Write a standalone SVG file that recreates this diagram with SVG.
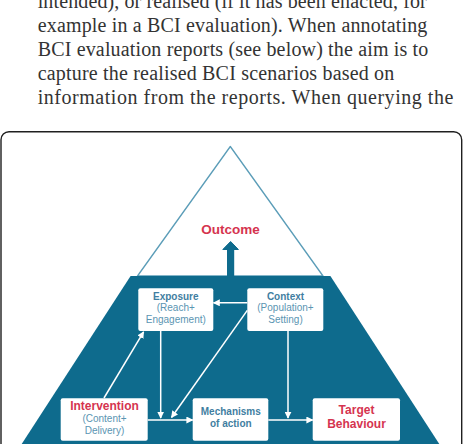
<svg xmlns="http://www.w3.org/2000/svg" width="463" height="444" viewBox="0 0 463 444">
  <defs>
    <marker id="head" viewBox="0 0 10 10" refX="9" refY="5" markerWidth="7" markerHeight="7" markerUnits="userSpaceOnUse" orient="auto">
      <path d="M0,0 L10,5 L0,10 z" fill="#ffffff"/>
    </marker>
    <style>
      .body { font-family: "Liberation Serif", "Times New Roman", serif; font-size: 20px; fill: #333333; }
      .box { fill: #ffffff; }
      .t { font-family: "Liberation Sans", Arial, sans-serif; text-anchor: middle; }
      .title { font-weight: bold; font-size: 10px; fill: #3f7ea1; }
      .sub { font-size: 10px; fill: #5b95b2; }
      .red { font-weight: bold; font-size: 12px; fill: #d5344f; }
      .link { stroke: #ffffff; stroke-width: 1.5; fill: none; marker-end: url(#head); }
    </style>
  </defs>

  <!-- running text above the figure -->
  <g id="paragraph">
    <text class="body" x="37.7" y="7.5" textLength="389" lengthAdjust="spacing">intended), or realised (if it has been enacted, for</text>
    <text class="body" x="37.7" y="31.5" textLength="389.6" lengthAdjust="spacing">example in a BCI evaluation). When annotating</text>
    <text class="body" x="37.7" y="55.5" textLength="390.6" lengthAdjust="spacing">BCI evaluation reports (see below) the aim is to</text>
    <text class="body" x="37.7" y="79.5" textLength="356.6" lengthAdjust="spacing">capture the realised BCI scenarios based on</text>
    <text class="body" x="37.7" y="103.5" textLength="415.6" lengthAdjust="spacing">information from the reports. When querying the</text>
  </g>

  <!-- figure frame -->
  <rect id="frame" x="1" y="131.7" width="460.7" height="340" rx="8" ry="8" fill="#ffffff" stroke="#1f1f1f" stroke-width="1.4"/>

  <!-- pyramid: outcome apex over the dark base -->
  <g id="pyramid">
    <polygon points="230.3,146.5 137.5,276 323,276" fill="#ffffff" stroke="#5b9db8" stroke-width="1.3" stroke-linejoin="round"/>
    <polygon points="130.6,276 330.4,276 439.3,444 21.7,444" fill="#0e6b8d"/>
    <rect x="227" y="248" width="7.2" height="30" fill="#0e6b8d"/>
    <polygon points="222.8,249.5 230.6,241.5 238.4,249.5" fill="#0e6b8d" stroke="#0e6b8d" stroke-width="1" stroke-linejoin="round"/>
  </g>

  <g id="outcome">
    <text class="t" x="230.5" y="234" font-size="13.5" font-weight="bold" fill="#d5344f">Outcome</text>
  </g>

  <!-- connectors -->
  <g id="connectors">
    <line class="link" x1="104" y1="398" x2="143.6" y2="331.8"/>
    <line class="link" x1="247.3" y1="302.8" x2="213.5" y2="302.8"/>
    <line class="link" x1="160.7" y1="331" x2="160.7" y2="418"/>
    <line class="link" x1="247.3" y1="310.4" x2="171.5" y2="417.5"/>
    <line class="link" x1="288" y1="331" x2="288" y2="418"/>
    <line class="link" x1="147.7" y1="420" x2="192.7" y2="420"/>
    <line class="link" x1="268.3" y1="420" x2="312.7" y2="420"/>
  </g>

  <g id="exposure">
    <rect class="box" x="138.3" y="288.3" width="75" height="42.7" rx="2"/>
    <text class="t title" x="175.8" y="299.5">Exposure</text>
    <text class="t sub" x="175.8" y="311">(Reach+</text>
    <text class="t sub" x="175.8" y="323">Engagement)</text>
  </g>

  <g id="context">
    <rect class="box" x="247.3" y="288.3" width="76" height="42.7" rx="2"/>
    <text class="t title" x="285.5" y="299.5">Context</text>
    <text class="t sub" x="285.5" y="311">(Population+</text>
    <text class="t sub" x="285.5" y="323">Setting)</text>
  </g>

  <g id="intervention">
    <rect class="box" x="60.7" y="398.3" width="87" height="42.5" rx="2"/>
    <text class="t red" x="104.5" y="409.5">Intervention</text>
    <text class="t sub" x="104.5" y="422">(Content+</text>
    <text class="t sub" x="104.5" y="434">Delivery)</text>
  </g>

  <g id="mechanisms">
    <rect class="box" x="192.7" y="398.3" width="75.6" height="42.5" rx="2"/>
    <text class="t title" x="230.8" y="414.5">Mechanisms</text>
    <text class="t title" x="230.8" y="426.5">of action</text>
  </g>

  <g id="target">
    <rect class="box" x="312.7" y="398.3" width="87.3" height="42.5" rx="2"/>
    <text class="t red" x="356.5" y="414">Target</text>
    <text class="t red" x="356.5" y="428.3">Behaviour</text>
  </g>
</svg>
